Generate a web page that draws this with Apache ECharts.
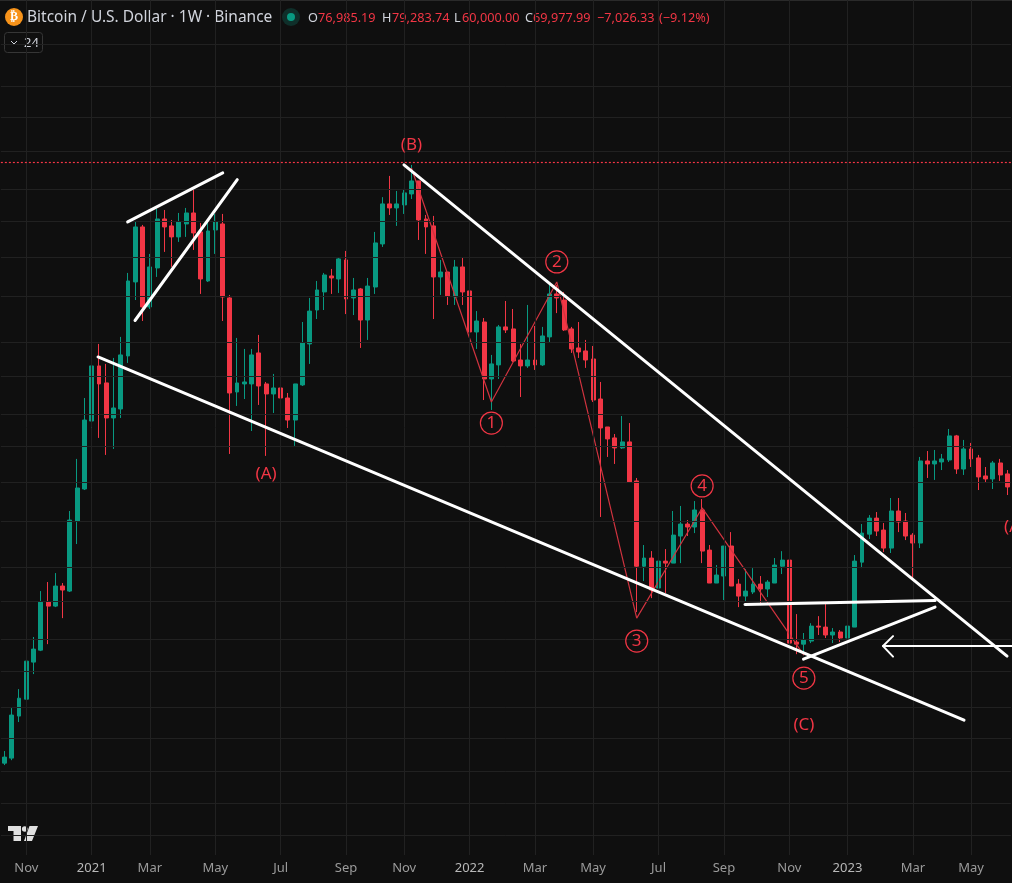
<!DOCTYPE html>
<html><head><meta charset="utf-8">
<style>html,body{margin:0;padding:0;background:#0f0f0f;overflow:hidden}#c{width:1012px;height:883px}</style>
<script src="https://cdn.jsdelivr.net/npm/echarts@6/dist/echarts.min.js"></script>
</head><body><div id="c"></div>
<script>
const categories=["2020-10-12","2020-10-19","2020-10-26","2020-11-02","2020-11-09","2020-11-16","2020-11-23","2020-11-30","2020-12-07","2020-12-14","2020-12-21","2020-12-28",
"2021-01-04","2021-01-11","2021-01-18","2021-01-25","2021-02-01","2021-02-08","2021-02-15","2021-02-22","2021-03-01","2021-03-08","2021-03-15","2021-03-22","2021-03-29","2021-04-05","2021-04-12","2021-04-19","2021-04-26","2021-05-03","2021-05-10","2021-05-17","2021-05-24","2021-05-31","2021-06-07","2021-06-14","2021-06-21","2021-06-28","2021-07-05","2021-07-12","2021-07-19","2021-07-26","2021-08-02","2021-08-09","2021-08-16","2021-08-23","2021-08-30","2021-09-06","2021-09-13","2021-09-20","2021-09-27","2021-10-04","2021-10-11","2021-10-18","2021-10-25","2021-11-01","2021-11-08","2021-11-15","2021-11-22","2021-11-29","2021-12-06","2021-12-13","2021-12-20","2021-12-27",
"2022-01-03","2022-01-10","2022-01-17","2022-01-24","2022-01-31","2022-02-07","2022-02-14","2022-02-21","2022-02-28","2022-03-07","2022-03-14","2022-03-21","2022-03-28","2022-04-04","2022-04-11","2022-04-18","2022-04-25","2022-05-02","2022-05-09","2022-05-16","2022-05-23","2022-05-30","2022-06-06","2022-06-13","2022-06-20","2022-06-27","2022-07-04","2022-07-11","2022-07-18","2022-07-25","2022-08-01","2022-08-08","2022-08-15","2022-08-22","2022-08-29","2022-09-05","2022-09-12","2022-09-19","2022-09-26","2022-10-03","2022-10-10","2022-10-17","2022-10-24","2022-10-31","2022-11-07","2022-11-14","2022-11-21","2022-11-28","2022-12-05","2022-12-12","2022-12-19","2022-12-26",
"2023-01-02","2023-01-09","2023-01-16","2023-01-23","2023-01-30","2023-02-06","2023-02-13","2023-02-20","2023-02-27","2023-03-06","2023-03-13","2023-03-20","2023-03-27","2023-04-03","2023-04-10","2023-04-17","2023-04-24","2023-05-01","2023-05-08","2023-05-15","2023-05-22","2023-05-29","2023-06-05"];

const opens=[10930,11100,12635,13310,14920,15480,17950,17730,18860,18570,23040,25430,31355,37155,35260,31650,32540,38315,48125,57010,44555,50245,58430,57190,55285,57540,59520,56140,48270,56480,57540,45810,34290,35150,35150,38670,35150,34080,34715,33660,31450,35040,39760,44140,46665,49020,48570,51500,45810,47100,42800,47380,54100,61200,60450,61010,63110,65690,58430,57190,48870,49620,45950,50400,46810,41250,42540,35690,37270,41900,41640,37840,37155,37840,37270,40630,46380,45520,41640,39270,38910,37960,33555,30785,29765,28860,29400,26070,20047,20558,18745,20365,20240,22000,22830,22620,23840,21070,19035,19450,21335,18975,18285,18515,18975,18690,19035,20047,20430,15870,15770,15920,16670,16620,16220,16370,16070,16620,20300,22130,23250,22410,21200,23765,23040,22065,21530,27725,27470,27640,27810,29950,27045,28770,27985,26475,26230,27555,26640];
const closes=[11135,12675,13350,14965,15530,17950,17730,18860,18630,23110,25510,31450,37155,35150,31650,32640,38435,48270,57010,44555,50400,58430,57010,55285,57895,59520,55965,48570,56310,57895,45950,34185,35255,35365,38435,34930,34080,34715,33660,31450,35150,39880,43990,46950,49170,48720,51660,45660,46950,42800,47520,54270,61200,60450,61200,63310,65690,58250,57010,48870,49620,46090,50400,46665,41250,42670,35690,37385,41900,41510,37725,37155,37840,37270,40750,46380,45810,41510,39150,38790,37840,33450,30690,29670,28860,29400,25990,20047,20558,18630,20365,20240,22065,22830,22620,23840,21005,19035,19510,21335,18860,18285,18570,18975,18690,19090,20120,20430,15820,15770,15970,16670,16620,16220,16370,16070,16670,20365,22200,23250,22340,21200,23765,22970,22000,21530,27725,27470,27725,27900,29950,27045,28770,27900,26395,26230,27555,26555,25590];
const lows=[10865,11030,12405,12790,14380,15435,15770,17675,17085,18515,21465,25350,27555,29765,28245,28770,31650,37500,45520,42670,44280,48875,52790,50400,54440,55285,53110,46380,48125,52465,42670,28330,32845,33555,30405,32945,28160,32140,31450,30690,29040,34930,37385,42930,44140,46380,46520,43590,43460,39270,40250,46380,53600,59160,57190,59340,62140,54770,52465,42930,46235,44830,44830,44830,39760,39150,33450,32440,35690,41120,37610,33760,36930,36700,37155,40000,43720,41380,38670,38080,36930,33250,23330,28070,27470,28770,25990,17404,19150,18170,18690,18460,20240,20240,22000,22200,20240,19035,19035,18060,18860,17675,18005,18400,17780,18230,19035,19570,15245,15290,15245,15820,16220,16070,15820,15870,15970,16620,19930,21800,22000,20940,20880,22270,21730,19210,21200,26310,26150,26960,27640,26640,26555,27215,25350,25910,25430,26070,24965];
const highs=[11345,12950,13730,15575,16120,18570,19095,19630,19035,23765,27900,33660,41640,39760,37385,38080,40630,49480,58075,57365,52465,60260,60070,58250,59520,60445,64490,57720,57895,59340,59340,46235,40500,39150,39150,40880,35365,36250,34715,34185,35150,42540,45810,48270,49480,50090,51820,52950,48720,47240,48720,56140,62490,66710,63690,64090,69015,65690,59160,58980,51500,49620,51500,51820,47240,44000,43060,38435,42150,45380,44280,39760,44830,42020,41900,47800,47660,46665,41900,42540,40250,39510,35365,30785,30125,31845,31160,26310,21400,21005,21930,21135,23765,24136,23110,24505,24655,21400,20120,21335,22270,19270,19870,19930,19450,19210,20560,21000,20560,17300,16320,16820,17190,17840,16570,16470,16670,20750,22830,23470,23690,22900,24735,24735,23620,22200,28070,28590,28680,28330,30595,30040,29580,29310,28245,27215,27725,27900,26960];

const tickWeeks=[3,12,20,29,38,47,55,64,73,81,90,99,108,116,125,133];
const tickLabels=["Nov","2021","Mar","May","Jul","Sep","Nov","2022","Mar","May","Jul","Sep","Nov","2023","Mar","May"];
const gridPrices=[100000,88000,80000,72000,64000,58000,52000,46000,40000,36000,32000,29000,26000,23000,20000,18000,16000,14500,13000,11800,10650,9650,8760];
const lastPrice=69540;

const lowerTrend=[[12.87,38197],[132.04,12480]];
const upperTrend=[[54.97,69015],[137.96,15198]];
const wedgeTop=[[16.95,57895],[30.03,67332]];
const wedgeBottom=[[17.96,42735],[32.03,65950]];
const flatLine=[[101.9,17824],[128.05,18043]];
const risingLine=[[109.95,15055],[128.05,17675]];
const arrowShaft=[[120.9,15676],[138.75,15676]];
const arrowHead=[[122.27,16164],[120.9,15676],[122.27,15175]];
const waveLine=[[56,68375],[67,33250],[76,48125],[87,17085],[96,23990],[110,15245]];
const waveCircles=[[67,31160,"1"],[76,51186,"2"],[87,15920,"3"],[96,25670,"4"],[110,14200,"5"]];
const waveLetters=[[56,73390,"(B)"],[36,26620,"(A)"],[110,12290,"(C)"],[139,22620,"(A)"]];

const titleText="Bitcoin / U.S. Dollar · 1W · Binance";
const ohlc=[["O",308,"#d1d4dc"],["76,985.19",318,"#f23645"],["H",382,"#d1d4dc"],["79,283.74",392,"#f23645"],["L",454,"#d1d4dc"],["60,000.00",462,"#f23645"],["C",525,"#d1d4dc"],["69,977.99",533,"#f23645"],["−7,026.33",597,"#f23645"],["(−9.12%)",659,"#f23645"]];

const RED="#f23645",GREEN="#089981",FONT='"Noto Sans",sans-serif';
const ohlcData=categories.map((c,i)=>[opens[i],closes[i],lows[i],highs[i]]);
const whiteLine=(d,w)=>({type:"line",xAxisIndex:1,yAxisIndex:0,data:d,showSymbol:false,symbol:"none",clip:false,z:6,silent:true,
  lineStyle:{color:"#ffffff",width:w,cap:"round",join:"round"}});

const chart=echarts.init(document.getElementById("c"),null,{renderer:"canvas",width:1012,height:883});
chart.setOption({
  animation:false,backgroundColor:"#0f0f0f",
  grid:{left:0.87,width:1010.1,top:0,height:855,containLabel:false},
  xAxis:[
    {type:"category",data:categories,boundaryGap:true,axisLine:{show:false},axisTick:{show:false},splitLine:{show:false},
     axisLabel:{show:true,hideOverlap:false,margin:7,interval:(i)=>tickWeeks.includes(i),fontFamily:FONT,fontSize:13,color:"#9b9b9b",
       formatter:(v,i)=>{const k=tickWeeks.indexOf(i);if(k<0)return "";const t=tickLabels[k];return /^\d+$/.test(t)?"{y|"+t+"}":t;},
       rich:{y:{color:"#b8b8b8",fontFamily:FONT,fontSize:13}}}},
    {type:"value",min:-0.5,max:138.5,show:false,splitLine:{show:false}}
  ],
  yAxis:[{type:"log",logBase:10,min:8236,max:114700,show:false,splitLine:{show:false}}],
  series:[
    {type:"line",xAxisIndex:1,yAxisIndex:0,data:[[0,40000]],showSymbol:false,symbol:"none",lineStyle:{opacity:0},z:0,silent:true,
     markLine:{silent:true,symbol:"none",animation:false,label:{show:false},lineStyle:{color:"#212121",width:1,type:"solid"},
       data:[...gridPrices.map(p=>({yAxis:p})),...tickWeeks.map(w=>({xAxis:w}))]}},
    {type:"candlestick",xAxisIndex:0,yAxisIndex:0,data:ohlcData,barWidth:4.4,z:2,silent:true,
     itemStyle:{color:GREEN,color0:RED,borderColor:GREEN,borderColor0:RED,borderWidth:1}},
    {type:"line",xAxisIndex:1,yAxisIndex:0,data:[[0,lastPrice]],showSymbol:false,symbol:"none",lineStyle:{opacity:0},z:3,silent:true,
     markLine:{silent:true,symbol:"none",animation:false,label:{show:false},lineStyle:{color:RED,width:1.2,opacity:1,type:[2,2]},data:[{yAxis:lastPrice}]}},
    {type:"line",xAxisIndex:1,yAxisIndex:0,data:waveLine,showSymbol:false,symbol:"none",z:4,silent:true,lineStyle:{color:"#d0333f",width:1.2}},
    whiteLine(lowerTrend,3),whiteLine(upperTrend,3),whiteLine(wedgeTop,3),whiteLine(wedgeBottom,3),
    whiteLine(flatLine,3),whiteLine(risingLine,3),whiteLine(arrowShaft,2),whiteLine(arrowHead,2),
    {type:"scatter",xAxisIndex:1,yAxisIndex:0,clip:false,silent:true,z:7,symbol:"circle",symbolSize:22,data:waveCircles.map(d=>({value:[d[0],d[1]],name:d[2]})),
     itemStyle:{color:"rgba(0,0,0,0)",borderColor:RED,borderWidth:1.2,opacity:1},
     label:{show:true,position:"inside",formatter:p=>p.name,color:RED,fontFamily:FONT,fontSize:17}},
    {type:"scatter",xAxisIndex:1,yAxisIndex:0,clip:false,silent:true,z:7,symbol:"circle",symbolSize:1,data:waveLetters.map(d=>({value:[d[0],d[1]],name:d[2]})),
     itemStyle:{color:"rgba(0,0,0,0)",opacity:1},
     label:{show:true,position:"inside",formatter:p=>p.name,color:RED,fontFamily:FONT,fontSize:17}}
  ],
  graphic:{elements:[
    {type:"rect",shape:{x:0,y:0,width:1012,height:1},style:{fill:"#2a2a2a"},silent:true},
    {type:"circle",shape:{cx:14,cy:17,r:9},style:{fill:"#f7931a"},silent:true},
    {type:"text",x:14,y:17,style:{text:"₿",fill:"#ffffff",font:'bold 12px "DejaVu Sans"',align:"center",verticalAlign:"middle"},silent:true},
    {type:"text",x:27,y:18,style:{text:titleText,fill:"#d1d4dc",font:'15.5px '+FONT,verticalAlign:"middle"},silent:true},
    {type:"circle",shape:{cx:291,cy:17,r:9},style:{fill:"#0f2f2a"},silent:true},
    {type:"circle",shape:{cx:291,cy:17,r:4},style:{fill:GREEN},silent:true},
    ...ohlc.map(o=>({type:"text",x:o[1],y:18,style:{text:o[0],fill:o[2],font:'12.7px '+FONT,verticalAlign:"middle"},silent:true})),
    {type:"rect",shape:{x:4.5,y:32.5,width:38,height:20,r:3},style:{fill:"#0f0f0f",stroke:"#363636",lineWidth:1},silent:true},
    {type:"polyline",shape:{points:[[11,41],[14,44],[17,41]]},style:{stroke:"#d1d4dc",lineWidth:1,fill:null},silent:true},
    {type:"text",x:24,y:43,style:{text:"24",fill:"#d1d4dc",font:'13px '+FONT,verticalAlign:"middle"},silent:true},
    {type:"polygon",shape:{points:[[8,826],[21,826],[21,841],[13.5,841],[13.5,831],[8,831]]},style:{fill:"#e0e0e0"},silent:true},
    {type:"circle",shape:{cx:24.7,cy:829,r:2.8},style:{fill:"#e0e0e0"},silent:true},
    {type:"polygon",shape:{points:[[29.5,826],[38,826],[32,841],[24,841]]},style:{fill:"#e0e0e0"},silent:true}
  ]}
});
</script></body></html>
